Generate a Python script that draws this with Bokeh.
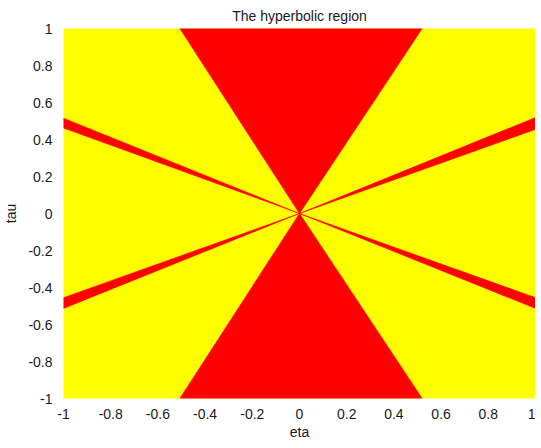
from bokeh.plotting import figure
from bokeh.models import Range1d, FixedTicker
from bokeh.embed import file_html
from bokeh.resources import INLINE

# Data: red (hyperbolic) polygons, apex at origin
cone_top_eta = [0.0, -0.507, 0.52]
cone_top_tau = [0.0, 1.0, 1.0]
cone_bot_eta = [0.0, -0.507, 0.52]
cone_bot_tau = [0.0, -1.0, -1.0]
wedge_lt_eta = [0.0, -1.0, -1.0]
wedge_lt_tau = [0.0, 0.515, 0.462]
wedge_rt_eta = [0.0, 1.0, 1.0]
wedge_rt_tau = [0.0, 0.519, 0.455]
wedge_lb_eta = [0.0, -1.0, -1.0]
wedge_lb_tau = [0.0, -0.455, -0.513]
wedge_rb_eta = [0.0, 1.0, 1.0]
wedge_rb_tau = [0.0, -0.455, -0.513]

ticks = [-1, -0.8, -0.6, -0.4, -0.2, 0, 0.2, 0.4, 0.6, 0.8, 1]
tick_labels = ["-1", "-0.8", "-0.6", "-0.4", "-0.2", "0", "0.2", "0.4", "0.6", "0.8", "1"]

FONT = "Liberation Sans"
TXT = "#1a1a1a"

p = figure(width=525, height=432, output_backend="svg", toolbar_location=None,
           x_range=Range1d(-1, 1), y_range=Range1d(-1, 1),
           frame_width=472, frame_height=370,
           min_border_left=53, min_border_right=0, min_border_bottom=40, min_border_top=0,
           background_fill_color="#ffff00", border_fill_color="white",
           title="The hyperbolic region")
p.outline_line_color = None
p.grid.visible = False

p.title.align = "center"
p.title.text_font = FONT
p.title.text_font_size = "14px"
p.title.text_font_style = "normal"
p.title.text_color = TXT

p.patches(xs=[cone_top_eta, cone_bot_eta, wedge_lt_eta, wedge_rt_eta, wedge_lb_eta, wedge_rb_eta],
          ys=[cone_top_tau, cone_bot_tau, wedge_lt_tau, wedge_rt_tau, wedge_lb_tau, wedge_rb_tau],
          fill_color="#ff0000", line_color="#ff0000", line_width=0.6)

for ax in (p.xaxis[0], p.yaxis[0]):
    ax.ticker = FixedTicker(ticks=ticks)
    ax.major_label_overrides = {t: l for t, l in zip(ticks, tick_labels)}
    ax.axis_line_color = None
    ax.major_tick_line_color = None
    ax.minor_tick_line_color = None
    ax.major_label_text_font = FONT
    ax.major_label_text_font_size = "14px"
    ax.major_label_text_color = TXT
    ax.axis_label_text_font = FONT
    ax.axis_label_text_font_size = "14px"
    ax.axis_label_text_font_style = "normal"
    ax.axis_label_text_color = TXT

p.xaxis.axis_label = "eta"
p.yaxis.axis_label = "tau"
p.xaxis.major_label_standoff = 4
p.yaxis.major_label_standoff = 5
p.xaxis.axis_label_standoff = 2
p.yaxis.axis_label_standoff = 6
p.yaxis.major_label_orientation = "horizontal"

open("out.html", "w").write(file_html(p, INLINE))
